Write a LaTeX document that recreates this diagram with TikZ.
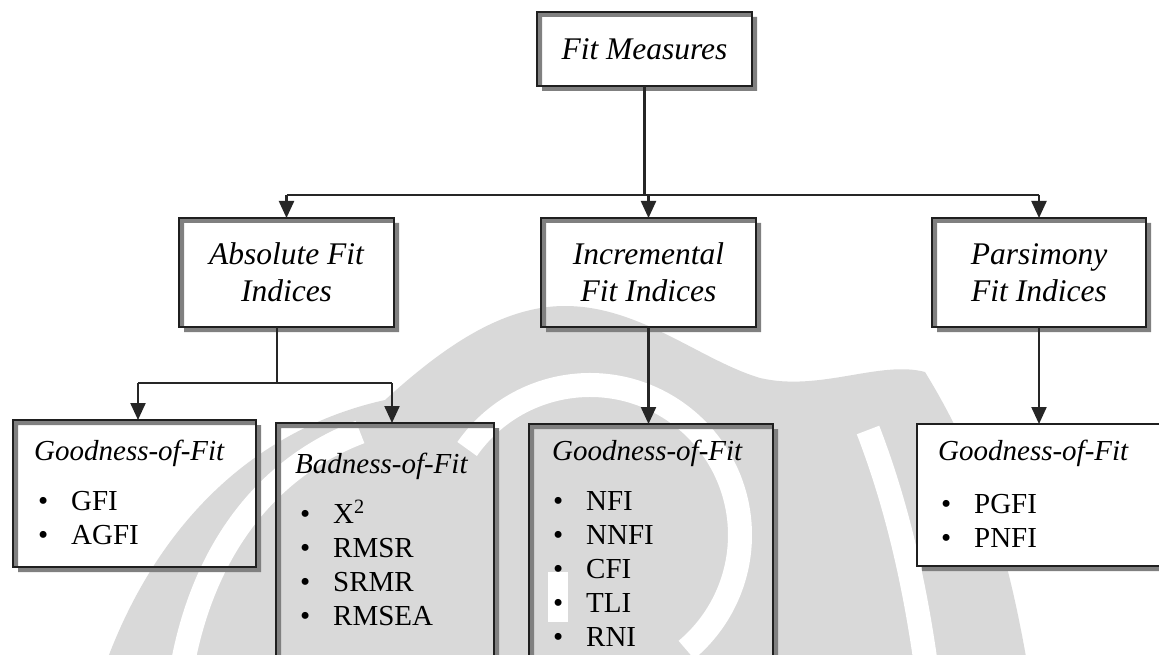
\documentclass[tikz,border=0pt]{standalone}
\usepackage{fontspec}
\setmainfont{Liberation Serif}
\usetikzlibrary{arrows.meta}
\pgfdeclarelayer{backlayer}
\pgfdeclarelayer{shadowlayer}
\pgfsetlayers{backlayer,shadowlayer,main}
\definecolor{wmgray}{gray}{0.85}
\newcommand\listentry[1]{\makebox[33pt][l]{\textbullet}#1}
\begin{document}
\begin{tikzpicture}[x=1pt,y=-1pt,
  box/.style={draw=black!88, line width=1.6pt, inner sep=0pt, outer sep=0pt},
  headbox/.style={box, minimum width=215pt, minimum height=109pt, align=center,
    font=\fontsize{31.5}{37}\selectfont\itshape},
  link/.style={draw=black!85, line width=2.2pt},
  arr/.style={link, -{Triangle[width=15pt,length=17pt]}},
  title/.style={anchor=base west, inner sep=0pt, font=\fontsize{29}{34}\selectfont\itshape},
  items/.style={anchor=base west, inner sep=0pt, font=\fontsize{29}{34}\selectfont},
  shadowed/.style={fill=black!50, even odd rule},
  wmband/.style={draw=white, line width=24pt}]
\useasboundingbox (0,0) rectangle (1159,655);

% page and faint emblem in the background
\begin{pgfonlayer}{backlayer}
  \fill[white] (0,0) rectangle (1159,655);
  \begin{scope}
    \clip (0,0) rectangle (1159,655);
    \fill[wmgray] (100,680) .. controls (150,530) and (250,430) .. (385,400)
      .. controls (440,350) and (500,306) .. (565,306)
      .. controls (640,306) and (700,360) .. (760,378)
      .. controls (820,392) and (880,360) .. (925,372)
      .. controls (985,470) and (1010,560) .. (1030,680) -- cycle;
    \draw[wmband] (180,680) .. controls (198,560) and (260,470) .. (360,432);
    \draw[wmband] (868,430) .. controls (895,500) and (915,580) .. (928,680);
    \draw[wmband] (590,535) ++(215:150) arc[start angle=215, end angle=410, radius=150];
    \fill[white] (548,572) rectangle (568,622);
  \end{scope}
\end{pgfonlayer}

% top level
\node[box, minimum width=215pt, minimum height=74pt,
      font=\fontsize{31.5}{37}\selectfont\itshape] (fm) at (644.5,49) {Fit Measures};

% second level
\node[headbox] (abs)  at (286.5,272.5) {Absolute Fit\\Indices};
\node[headbox] (inc)  at (648.5,272.5) {Incremental\\Fit Indices};
\node[headbox, minimum width=214pt] (pars) at (1039,272.5) {Parsimony\\Fit Indices};

% third level
\node[box, minimum width=243pt, minimum height=147pt] (g1)  at (134.5,493.5) {};
\node[box, minimum width=218pt, minimum height=277pt] (bad) at (385,561.5) {};
\node[box, minimum width=244pt, minimum height=276pt] (ig)  at (651,562) {};
\node[box, fill=white, minimum width=258pt, minimum height=142pt] (pg)  at (1046,495) {};

% drop shadows (right and bottom strips)
\begin{pgfonlayer}{shadowlayer}
  \foreach \n in {fm,abs,inc,pars,g1,bad,ig,pg}{
    \fill[shadowed] ([shift={(5,5)}]\n.north west) rectangle ([shift={(5,5)}]\n.south east)
                    (\n.north west) rectangle (\n.south east);
  }
\end{pgfonlayer}

% contents of the lower boxes
\node[title] (g1t) at (34,460) {Goodness-of-Fit};
\node[items] (g1l) at (38,510) {\begin{tabular}[t]{@{}l@{}}
  \listentry{GFI}\\ \listentry{AGFI}\end{tabular}};

\node[title] (badt) at (295,473) {Badness-of-Fit};
\node[items] (badl) at (300,523) {\begin{tabular}[t]{@{}l@{}}
  \listentry{X\textsuperscript{2}}\\ \listentry{RMSR}\\ \listentry{SRMR}\\ \listentry{RMSEA}\end{tabular}};

\node[title] (igt) at (552,460) {Goodness-of-Fit};
\node[items] (igl) at (553,510) {\begin{tabular}[t]{@{}l@{}}
  \listentry{NFI}\\ \listentry{NNFI}\\ \listentry{CFI}\\ \listentry{TLI}\\ \listentry{RNI}\end{tabular}};

\node[title] (pgt) at (938,460) {Goodness-of-Fit};
\node[items] (pgl) at (941,513) {\begin{tabular}[t]{@{}l@{}}
  \listentry{PGFI}\\ \listentry{PNFI}\end{tabular}};

% connectors
\coordinate (hub) at (650,195);
\draw[link] (fm.south) -- (fm.south |- hub);
\draw[link] (abs.north |- hub) -- (pars.north |- hub);
\draw[arr] (abs.north |- hub) -- (abs.north);
\draw[arr] (inc.north |- hub) -- (inc.north);
\draw[arr] (pars.north |- hub) -- (pars.north);

\coordinate (absout) at (277,327);
\coordinate (split) at (277,383);
\coordinate (toG) at (138,383);
\coordinate (toB) at (392,383);
\draw[link, line width=1.6pt] (absout) -- (split);
\draw[link] (toG) -- (toB);
\draw[arr] (toG) -- (toG |- g1.north);
\draw[arr] (toB) -- (toB |- bad.north);

\draw[arr] (inc.south) -- (inc.south |- ig.north);
\draw[arr] (pars.south) -- (pars.south |- pg.north);
\end{tikzpicture}
\end{document}
